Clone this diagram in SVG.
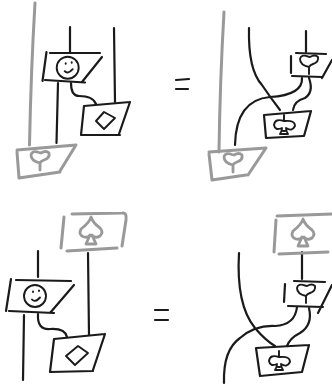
<svg xmlns="http://www.w3.org/2000/svg" width="332" height="385" viewBox="0 0 332 385">
<style>
path,circle{fill:none;stroke-linecap:round;stroke-linejoin:round}
.k{stroke:#1a1a1a;stroke-width:2.2}
.g{stroke:#999;stroke-width:3}
.t{stroke:#1a1a1a;stroke-width:1.9}
.gt{stroke:#999;stroke-width:2.8}
</style>
<defs>
<g id="smile">
<circle class="t" cx="0" cy="0" r="11"/>
<path class="t" d="M-2-4.500v.5M4-5.500v.5M-3 3.500Q0 7 5 1.500"/>
</g>
<path id="heart" d="M0 12L0 5Q-9 3-9-3-8-8-1-5.500L1-5Q6-8 9-5 10 0 4 2 1 3 0 5"/>
<path id="spade" d="M0-14Q-1-9-10-2-13 4-7 6-3 7-1 4L-5 13H5L1 4Q4 8 9 5 13 1 9-3 2-8 0-14Z"/>
<path id="club" d="M0-10V-4Q-9-7-10 0-9 6-2 3-2 6-4 9H4Q2 6 2 3 8 7 11 1 11-5 1-4M-1 6H1"/>
</defs>
<g id="connectors">
<path class="g" d="M35 3Q31 70 29.500 145"/>
<path class="k" d="M70 27V52M114 28L115 102M58 83L56.500 143M71 83Q71 96 79 96 93 96 96 104"/>
<path class="g" d="M224 12Q220 80 219 152"/>
<path class="k" d="M249 28Q248 70 262 85 270 97 280 110M306 31L306 52M302 78Q303 95 270 97 236 100 235 145M309 78Q314 92 305 98 294 101 293 110"/>
<path class="k" d="M38 251V277M88 253L89 335M24 315L23 380M38 314Q37 330 50 329 65 328 67 337"/>
<path class="k" d="M302 252V279M239 253Q236 305 255 328 265 340 275 346M297 307Q295 325 275 326 255 325 240 338 223 350 224 383M309 308Q313 325 300 333 290 338 287 346"/>
</g>
<g id="smiley-top"><path class="k" d="M50 53L100 53M46.500 52L42.500 81M45 80L85 82.500M102 57L82 82"/><use href="#smile" x="67.700" y="67.700"/></g>
<g id="diamond-top"><path class="k" d="M84 106L130 102M84 106L81 135M81 135L120 135M130 102L119 134"/><path class="t" d="M104 112L115 118 104 129 96 121Z"/></g>
<g id="heart-top"><path class="g" d="M17 150L76 145M17 152L19 178M19 178L60 172M76 145L60 171"/><use href="#heart" class="gt" x="40" y="158"/></g>
<g id="equals-top"><path class="k" d="M176 80L189 79M176 89L188 89"/></g>
<g id="heart-top-right"><path class="k" d="M296 53L326 54M291 56V73M292 76L322 77M332 60L322 78"/><use href="#heart" class="t" x="309" y="62"/></g>
<g id="club-top-right"><path class="k" d="M264 115L311 111M264 115L266 138M266 138L303 136M311 111L304 136"/><use href="#club" class="t" x="284" y="125"/></g>
<g id="heart-top-left"><path class="g" d="M209 152L266 148M209 154L212 180M212 180L246 175M266 148L248 175"/><use href="#heart" class="gt" x="233" y="160"/></g>
<g id="spade-bottom"><path class="g" d="M72 214L122 213Q127 212 126 220L122 246M64 217L61 248M67 251L117 248"/><use href="#spade" class="gt" x="91" y="231"/></g>
<g id="smiley-bottom"><path class="k" d="M16 280L71 281M11 279L6 311M9 311L54 313M74 285L50 313"/><use href="#smile" x="35" y="296"/></g>
<g id="diamond-bottom"><path class="k" d="M54 339L105 334M54 339L50 372M50 372L93 371M105 334L93 370"/><path class="t" d="M78 346L88 353 75 365 66 356Z"/></g>
<g id="equals-bottom"><path class="k" d="M155 310L168 310M155 320L168 320"/></g>
<g id="spade-right"><path class="g" d="M277 216L332 214M276 220L274 252M279 254L328 252"/><use href="#spade" class="gt" x="303" y="233"/></g>
<g id="heart-bottom-right"><path class="k" d="M294 281L325 282M285 284L284 302M288 306L323 307M332 285L318 313"/><use href="#heart" class="t" x="306" y="291"/></g>
<g id="club-bottom-right"><path class="k" d="M256 348L309 345M256 348L260 376M260 376L302 372M309 345L302 372"/><use href="#club" class="t" x="279" y="361"/></g>
</svg>
